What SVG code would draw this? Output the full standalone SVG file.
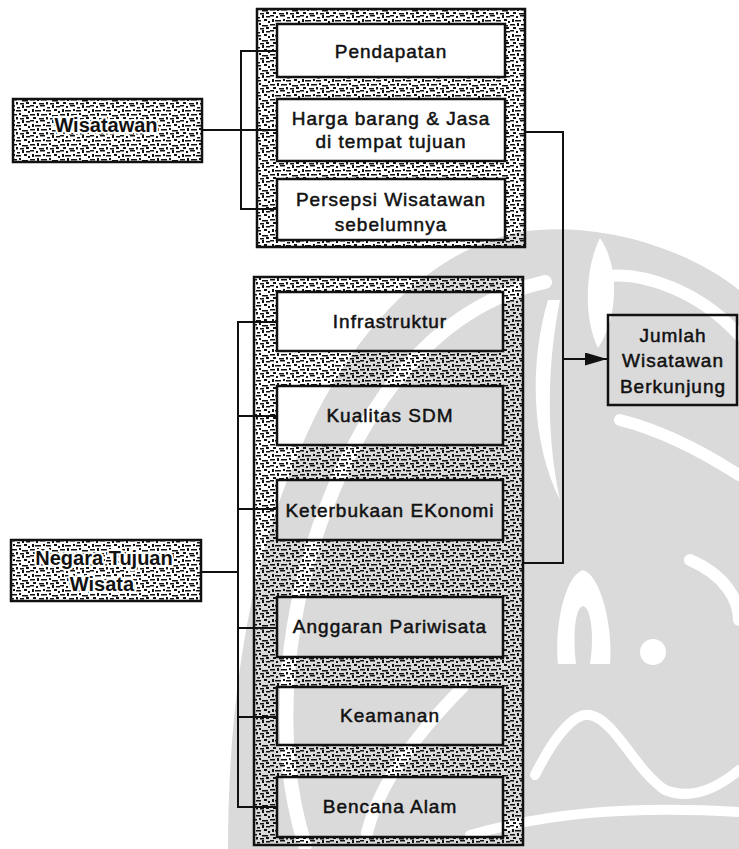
<svg xmlns="http://www.w3.org/2000/svg" width="739" height="849" viewBox="0 0 739 849">
<style>
.box{fill:none;stroke:#111;stroke-width:2.5}
.con{fill:none;stroke:#111;stroke-width:2}
.t{font-family:"Liberation Sans",Arial,sans-serif;font-size:19px;letter-spacing:1px;fill:#111;stroke:#111;stroke-width:0.5;text-anchor:middle}
.tb{font-family:"Liberation Sans",Arial,sans-serif;font-size:20px;font-weight:bold;fill:#111;stroke:#fff;stroke-width:4;stroke-linejoin:round;paint-order:stroke;text-anchor:middle}
.wm{fill:#dadada}
.wmw{fill:none;stroke:#fff;stroke-linecap:round}
.h{fill:#111}
</style>
<defs>
<pattern id="hatch" width="30" height="15" patternUnits="userSpaceOnUse">
<rect class="h" x="0" y="0" width="4" height="1.5"/>
<rect class="h" x="6" y="1" width="2" height="2"/>
<rect class="h" x="10" y="0" width="5" height="1.5"/>
<rect class="h" x="17" y="2" width="3" height="1.5"/>
<rect class="h" x="22" y="0" width="2" height="3"/>
<rect class="h" x="26" y="1" width="4" height="1.5"/>
<rect class="h" x="2" y="4" width="2" height="3"/>
<rect class="h" x="5" y="5" width="6" height="1.5"/>
<rect class="h" x="13" y="4" width="2" height="2"/>
<rect class="h" x="16" y="5" width="5" height="1.5"/>
<rect class="h" x="24" y="4" width="3" height="2"/>
<rect class="h" x="28" y="6" width="2" height="2"/>
<rect class="h" x="0" y="9" width="5" height="1.5"/>
<rect class="h" x="7" y="8" width="2" height="3"/>
<rect class="h" x="11" y="9" width="6" height="1.5"/>
<rect class="h" x="19" y="8" width="2" height="2"/>
<rect class="h" x="22" y="10" width="6" height="1.5"/>
<rect class="h" x="3" y="12" width="3" height="2"/>
<rect class="h" x="9" y="13" width="5" height="1.5"/>
<rect class="h" x="16" y="12" width="2" height="2.5"/>
<rect class="h" x="20" y="13" width="4" height="1.5"/>
<rect class="h" x="26" y="12" width="3" height="2"/>
</pattern>
<marker id="arr" markerUnits="userSpaceOnUse" markerWidth="24" markerHeight="14" refX="22" refY="6.5" orient="auto">
<path d="M0,0 L22,6.5 L0,13 z" fill="#111"/>
</marker>
</defs>

<g id="watermark">
<path class="wm" d="M228 849 C228 700 250 560 300 450 C350 330 430 250 520 232 C600 220 690 250 739 290 L739 849 Z"/>
<path class="wmw" stroke-width="14" d="M305 845 C272 740 282 600 342 470 C392 362 462 300 545 282"/>
<path class="wmw" stroke-width="12" d="M739 335 C700 292 645 272 608 276"/>
<path fill="#fff" d="M600 238 C622 270 616 322 598 348 C584 320 584 270 600 238 Z"/>
<path fill="#fff" d="M548 300 C530 360 530 440 560 500 C545 430 548 360 560 300 Z"/>
<path class="wmw" stroke-width="12" d="M620 420 C660 430 700 450 739 475"/>
<path fill="#fff" d="M583 570 C602 576 613 630 610 664 L558 664 C554 630 564 576 583 570 Z"/>
<path class="wm" d="M583 606 C592 608 594 640 590 664 L576 664 C573 640 574 608 583 606 Z"/>
<circle cx="653" cy="652" r="13" fill="#fff"/>
<path class="wmw" stroke-width="12" d="M690 560 C725 575 739 600 739 620"/>
<path class="wmw" stroke-width="10" d="M535 775 C555 735 575 712 590 715 C615 720 635 770 665 790 C690 800 715 790 739 770"/>
<path class="wmw" stroke-width="10" d="M470 835 C540 815 620 805 739 812"/>
<path class="wmw" stroke-width="12" d="M463 687 C420 730 380 780 367 833"/>
</g>

<g id="connectors">
<path class="con" d="M202 130 H277"/>
<path class="con" d="M277 51 H241 V209 H277"/>
<path class="con" d="M201 572 H238"/>
<path class="con" d="M277 322 H238 V807 H277 M238 416 H277 M238 509 H277 M238 628 H277 M238 717 H277"/>
<path class="con" d="M525 132 H563 V563 H523"/>
<path class="con" d="M563 359 H607" marker-end="url(#arr)"/>
</g>

<g id="group-wisatawan-factors">
<path fill="url(#hatch)" fill-rule="evenodd" d="M257 9 H525 V247 H257 Z M277 24 V77 H505 V24 Z M277 99 V161 H505 V99 Z M277 179 V240 H505 V179 Z"/>
<rect class="box" x="257" y="9" width="268" height="238"/>
</g>
<g id="pendapatan"><rect class="box" x="277" y="24" width="228" height="53"/><text class="t" x="391" y="58">Pendapatan</text></g>
<g id="harga"><rect class="box" x="277" y="99" width="228" height="62"/><text class="t" x="391" y="125">Harga barang &amp; Jasa</text><text class="t" x="391" y="148">di tempat tujuan</text></g>
<g id="persepsi"><rect class="box" x="277" y="179" width="228" height="61"/><text class="t" x="391" y="206">Persepsi Wisatawan</text><text class="t" x="391" y="231">sebelumnya</text></g>

<g id="group-negara-factors">
<path fill="url(#hatch)" fill-rule="evenodd" d="M254 277 H523 V845 H254 Z M277 292 V351 H503 V292 Z M277 386 V445 H503 V386 Z M277 480 V540 H503 V480 Z M277 597 V657 H503 V597 Z M277 687 V745 H503 V687 Z M277 777 V837 H503 V777 Z"/>
<rect class="box" x="254" y="277" width="269" height="568"/>
</g>
<g id="infrastruktur"><rect class="box" x="277" y="292" width="226" height="59"/><text class="t" x="390" y="328">Infrastruktur</text></g>
<g id="kualitas"><rect class="box" x="277" y="386" width="226" height="59"/><text class="t" x="390" y="422">Kualitas SDM</text></g>
<g id="keterbukaan"><rect class="box" x="277" y="480" width="226" height="60"/><text class="t" x="390" y="517">Keterbukaan EKonomi</text></g>
<g id="anggaran"><rect class="box" x="277" y="597" width="226" height="60"/><text class="t" x="390" y="633">Anggaran Pariwisata</text></g>
<g id="keamanan"><rect class="box" x="277" y="687" width="226" height="58"/><text class="t" x="390" y="722">Keamanan</text></g>
<g id="bencana"><rect class="box" x="277" y="777" width="226" height="60"/><text class="t" x="390" y="813">Bencana Alam</text></g>

<g id="wisatawan">
<rect x="13" y="99" width="189" height="63" fill="url(#hatch)"/>
<rect class="box" x="13" y="99" width="189" height="63"/>
<text class="tb" x="106" y="132">Wisatawan</text>
</g>
<g id="negara">
<rect x="11" y="540" width="190" height="61" fill="url(#hatch)"/>
<rect class="box" x="11" y="540" width="190" height="61"/>
<text class="tb" x="104" y="565">Negara Tujuan</text>
<text class="tb" x="102" y="591">Wisata</text>
</g>
<g id="jumlah">
<rect class="box" x="608" y="315" width="129" height="90"/>
<text class="t" x="673" y="342">Jumlah</text>
<text class="t" x="673" y="367">Wisatawan</text>
<text class="t" x="673" y="393">Berkunjung</text>
</g>
</svg>
